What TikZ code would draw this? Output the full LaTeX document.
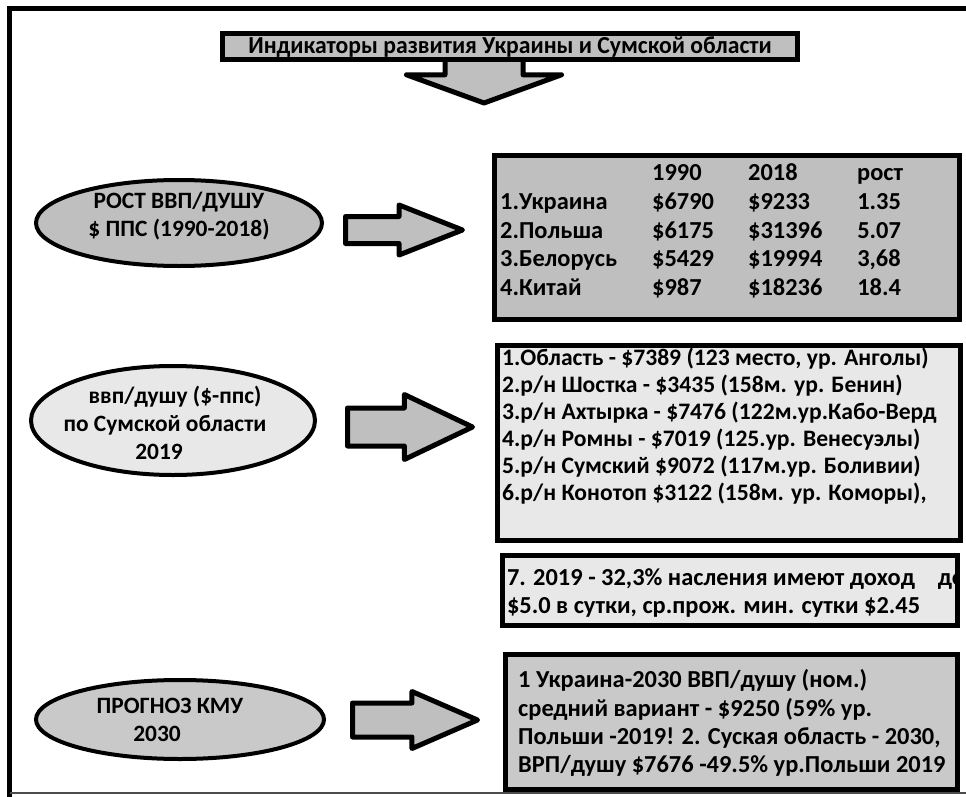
\documentclass[tikz,border=0pt]{standalone}
\usepackage{fontspec}
\setmainfont{Carlito}
\usetikzlibrary{shapes.geometric, shapes.arrows}
\definecolor{greyA}{gray}{0.75}
\definecolor{greyB}{gray}{0.91}
\definecolor{greyC}{gray}{0.79}

\begin{document}
\begin{tikzpicture}[x=1bp, y=-1bp,
        box/.style = {rectangle, draw, line width=5bp, fill=#1,
                     inner sep=0pt, outer sep=0pt},
       oval/.style = {ellipse, draw, line width=4bp, fill=#1,
                     inner sep=0pt, outer sep=0pt},
   fatarrow/.style = {single arrow, draw, line width=5bp, fill=greyA,
                     line join=round, inner xsep=0pt, outer sep=0pt,
                     anchor=tail},
        txt/.style = {inner sep=0pt, anchor=north west, align=left,
                     font=\bfseries\fontsize{24.5}{28.3}\selectfont},
    ovaltxt/.style = {inner sep=0pt, align=center,
                     font=\bfseries\fontsize{23.5}{28}\selectfont}
                        ]
\useasboundingbox (0,0) rectangle (966,797);
\draw[line width=5bp] (966,8.5) -- (9.5,8.5) -- (9.5,797);
\draw[line width=2bp, black!70] (9.5,793) -- (966,793);

\node (down) [fatarrow, rotate=-90, minimum height=45bp, minimum width=150bp,
              inner ysep=36.5bp, single arrow head extend=38.5bp,
              single arrow tip angle=140] at (484,58) {};
\node (title) [box=greyA, minimum width=575bp, minimum height=26bp,
               font=\bfseries\fontsize{24.5}{26}\selectfont] at (510,47)
      {\scalebox{0.97}[1]{Индикаторы развития Украины и Сумской области}};

\node (e1) [oval=greyA, minimum width=286bp, minimum height=86bp] at (179,223) {};
\node (e1t) [ovaltxt] at ([yshift=7bp]e1.center) {РОСТ ВВП/ДУШУ\\\$ ППС (1990-2018)};
\node (e2) [oval=greyB, minimum width=284bp, minimum height=109bp] at (173,420.5) {};
\node (e2t) [ovaltxt] at ([shift={(-8,2)}]e2.center)
      {\hspace*{20pt}ввп/душу (\$-ппс)\\по Сумской области\\2019\hspace*{12pt}};
\node (e3) [oval=greyC, minimum width=288bp, minimum height=79bp] at (180,719.5) {};
\node (e3t) [ovaltxt] at ([xshift=-10bp]e3.center) {ПРОГНОЗ КМУ\\2030\hspace*{26pt}};

\node (b1) [box=greyA, minimum width=465bp, minimum height=164bp] at (727,237.5) {};
\node (b1t) [txt, font=\bfseries\fontsize{24.5}{28.8}\selectfont]
      at ([shift={(5.5,5)}]b1.north west) {%
  \begin{tabular}{@{}p{152bp}@{}p{96bp}@{}p{109bp}@{}l@{}}
              & 1990    & 2018     & рост\\
  1.Украина   & \$6790  & \$9233   & 1.35\\
  2.Польша    & \$6175  & \$31396  & 5.07\\
  3.Белорусь  & \$5429  & \$19994  & 3,68\\
  4.Китай     & \$987   & \$18236  & 18.4
  \end{tabular}};

\node (b2) [box=greyB, minimum width=463bp, minimum height=195bp] at (729,443) {};
\node (b2t) [txt, font=\bfseries\fontsize{23.7}{27.2}\selectfont]
      at ([shift={(4.5,2)}]b2.north west) {%
  1.Область - \$7389 (123 место, ур. Анголы)\\
  2.р/н Шостка - \$3435 (158м. ур. Бенин)\\
  3.р/н Ахтырка - \$7476 (122м.ур.Кабо-Верд\\
  4.р/н Ромны - \$7019 (125.ур. Венесуэлы)\\
  5.р/н Сумский \$9072 (117м.ур. Боливии)\\
  6.р/н Конотоп \$3122 (158м. ур. Коморы),};

\node (b3) [box=greyB, minimum width=455bp, minimum height=70bp,
            path picture={\node (b3t) [txt] at ([shift={(4.5,2.5)}]path picture bounding box.north west) {%
  \makebox[458bp][l]{7. 2019 - 32,3\% насления имеют доход\hfill до}\\
  \$5.0 в сутки, ср.прож. мин. сутки \$2.45};}] at (730,590.5) {};

\node (b4) [box=greyC, minimum width=452bp, minimum height=135bp] at (731.5,722) {};
\node (b4t) [txt] at ([shift={(12.5,15)}]b4.north west) {%
  1 Украина-2030 ВВП/душу (ном.)\\
  средний вариант - \$9250 (59\% ур.\\
  Польши -2019! 2. Суская область - 2030,\\
  ВРП/душу \$7676 -49.5\% ур.Польши 2019};

\node (a1) [fatarrow, minimum height=117bp, minimum width=45bp, inner ysep=11bp,
            single arrow head extend=11.5bp, single arrow tip angle=43] at (345.5,230) {};
\node (a2) [fatarrow, minimum height=125bp, minimum width=60bp, inner ysep=16.5bp,
            single arrow head extend=13.5bp, single arrow tip angle=51] at (347.5,427) {};
\node (a3) [fatarrow, minimum height=125bp, minimum width=52bp, inner ysep=14.5bp,
            single arrow head extend=11.5bp, single arrow tip angle=47] at (352.5,720) {};
\end{tikzpicture}
\end{document}
